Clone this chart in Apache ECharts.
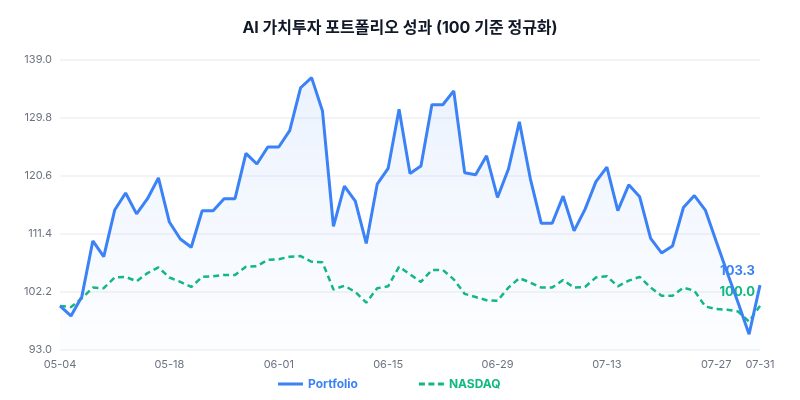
<!DOCTYPE html>
<html>
<head>
<meta charset="utf-8">
<title>AI 가치투자 포트폴리오 성과</title>
<script src="https://cdn.jsdelivr.net/npm/echarts@6/dist/echarts.min.js"></script>
<style>
  html, body { margin: 0; padding: 0; background: #fff; }
  #chart { width: 800px; height: 400px; }
</style>
</head>
<body>
<div id="chart"></div>
<script>
// 영업일 날짜 (05-04 ~ 07-31)
var dates = [
  '05-04','05-05','05-06','05-07','05-08','05-11','05-12','05-13','05-14','05-15',
  '05-18','05-19','05-20','05-21','05-22','05-25','05-26','05-27','05-28','05-29',
  '06-01','06-02','06-03','06-04','06-05','06-08','06-09','06-10','06-11','06-12',
  '06-15','06-16','06-17','06-18','06-19','06-22','06-23','06-24','06-25','06-26',
  '06-29','06-30','07-01','07-02','07-03','07-06','07-07','07-08','07-09','07-10',
  '07-13','07-14','07-15','07-16','07-17','07-20','07-21','07-22','07-23','07-24',
  '07-27','07-28','07-29','07-30','07-31'
];

// 100 기준 정규화 값
var portfolio = [
  100.0, 98.4, 101.5, 110.3, 107.8, 115.2, 117.9, 114.6, 117.0, 120.3,
  113.3, 110.6, 109.3, 115.1, 115.1, 117.0, 117.0, 124.2, 122.5, 125.2,
  125.2, 127.8, 134.6, 136.2, 130.9, 112.6, 119.0, 116.6, 109.9, 119.3,
  121.8, 131.2, 121.0, 122.2, 131.9, 131.9, 134.1, 121.1, 120.8, 123.8,
  117.2, 121.7, 129.2, 120.2, 113.1, 113.1, 117.4, 111.9, 115.3, 119.7,
  122.0, 115.1, 119.2, 117.3, 110.7, 108.4, 109.5, 115.6, 117.5, 115.2,
  110.2, 105.3, 100.5, 95.5, 103.3
];

var nasdaq = [
  100.0, 99.8, 101.2, 102.9, 102.8, 104.5, 104.6, 103.9, 105.2, 106.1,
  104.5, 103.8, 103.0, 104.6, 104.7, 104.9, 104.9, 106.2, 106.3, 107.3,
  107.4, 107.8, 107.9, 107.0, 106.9, 102.6, 103.2, 102.2, 100.5, 102.8,
  103.1, 106.2, 105.0, 103.8, 105.7, 105.7, 104.2, 101.9, 101.4, 100.9,
  100.8, 102.9, 104.4, 103.7, 102.9, 102.9, 104.1, 102.9, 103.0, 104.5,
  104.7, 103.1, 104.0, 104.6, 102.9, 101.6, 101.6, 102.9, 102.4, 99.9,
  99.5, 99.4, 99.1, 97.5, 100.0
];

var yMin = 93.0, yMax = 139.0, yStep = 9.2;

var blue = '#3b82f6', green = '#10b981';
var font = 'Inter, "Noto Sans CJK KR", sans-serif';

// 범례 아이콘 (실선 / 점선)
var solidIcon = 'path://M0,0H25V3H0Z';
var dashIcon = 'path://M0,0H6V3H0Z M9.5,0H15.5V3H9.5Z M19,0H25V3H19Z';

var chart = echarts.init(document.getElementById('chart'));

chart.setOption({
  animation: false,
  textStyle: { fontFamily: font },
  title: {
    text: 'AI 가치투자 포트폴리오 성과 (100 기준 정규화)',
    left: 'center',
    top: 15,
    textStyle: { fontSize: 16, fontWeight: 'bold', color: '#111827', fontFamily: font }
  },
  legend: {
    bottom: 5,
    left: 273,
    itemWidth: 25,
    itemHeight: 3,
    itemGap: 61,
    itemStyle: { borderWidth: 0 },
    data: [
      { name: 'Portfolio', icon: solidIcon, textStyle: { color: blue } },
      { name: 'NASDAQ', icon: dashIcon, textStyle: { color: green } }
    ],
    textStyle: { fontSize: 12, fontWeight: 'bold', fontFamily: font }
  },
  grid: { left: 60, right: 40, top: 60, bottom: 50 },
  xAxis: {
    type: 'category',
    data: dates,
    boundaryGap: false,
    axisLine: { show: false },
    axisTick: { show: false },
    axisLabel: {
      color: '#6b7280',
      fontSize: 11,
      margin: 9,
      interval: function (idx) {
        return idx % 10 === 0 || idx === dates.length - 1;
      }
    }
  },
  yAxis: {
    type: 'value',
    min: yMin,
    max: yMax,
    interval: yStep,
    axisLine: { show: false },
    axisTick: { show: false },
    axisLabel: {
      color: '#6b7280',
      fontSize: 11,
      margin: 8,
      formatter: function (v) { return v.toFixed(1); }
    },
    splitLine: { lineStyle: { color: '#f0f1f4', width: 1.5 } }
  },
  series: [
    {
      name: 'Portfolio',
      type: 'line',
      data: portfolio,
      symbol: 'none',
      z: 3,
      lineStyle: { color: blue, width: 3 },
      itemStyle: { color: blue },
      areaStyle: {
        color: new echarts.graphic.LinearGradient(0, 0, 0, 1, [
          { offset: 0, color: 'rgba(59,130,246,0.14)' },
          { offset: 1, color: 'rgba(59,130,246,0.02)' }
        ])
      },
      endLabel: {
        show: true,
        align: 'right',
        verticalAlign: 'middle',
        offset: [-13, -14],
        color: blue,
        fontSize: 13,
        fontWeight: 'bold',
        formatter: function (p) { return p.value.toFixed(1); }
      }
    },
    {
      name: 'NASDAQ',
      type: 'line',
      data: nasdaq,
      symbol: 'none',
      z: 2,
      lineStyle: { color: green, width: 2.5, type: [6, 4] },
      itemStyle: { color: green },
      endLabel: {
        show: true,
        align: 'right',
        verticalAlign: 'middle',
        offset: [-13, -14],
        color: green,
        fontSize: 13,
        fontWeight: 'bold',
        formatter: function (p) { return p.value.toFixed(1); }
      }
    }
  ]
});
</script>
</body>
</html>
